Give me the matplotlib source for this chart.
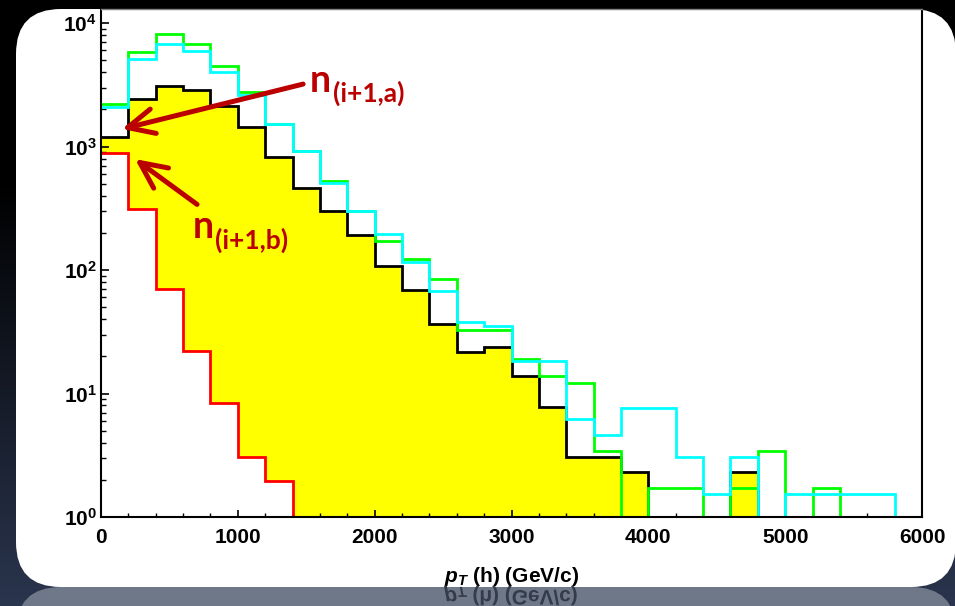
import numpy as np
import matplotlib
matplotlib.use('Agg')
import matplotlib.pyplot as plt
from matplotlib.patches import FancyBboxPatch, PathPatch
from matplotlib.textpath import TextPath
from matplotlib.font_manager import FontProperties
from matplotlib.transforms import Affine2D, IdentityTransform
from matplotlib.ticker import MultipleLocator, LogLocator, NullFormatter, FuncFormatter

plt.rcParams['font.family'] = ['Liberation Sans', 'DejaVu Sans']
plt.rcParams['font.weight'] = 'bold'
plt.rcParams['mathtext.fontset'] = 'custom'
plt.rcParams['mathtext.rm'] = 'Liberation Sans:bold'
plt.rcParams['mathtext.bf'] = 'Liberation Sans:bold'
plt.rcParams['mathtext.it'] = 'Liberation Sans:italic:bold'

# pT(h) histograms, 200 GeV/c bins from 0 to 6000
edges = np.arange(0, 6001, 200)
red_hist = [880, 312, 70, 22.3, 8.45, 3.05, 1.97, 0, 0, 0,
            0, 0, 0, 0, 0, 0, 0, 0, 0, 0,
            0, 0, 0, 0, 0, 0, 0, 0, 0, 0]
black_hist = [1200, 2430, 3110, 2870, 2140, 1440, 817, 458, 300, 192,
              108, 68.7, 36.3, 21.7, 23.7, 13.8, 7.79, 3.06, 3.06, 2.31,
              0, 0, 0, 2.31, 0, 0, 0, 0, 0, 0]
green_hist = [2210, 5860, 8200, 6780, 4520, 2750, 1520, 920, 530, 300,
              172, 123, 85, 32.6, 32.6, 19.1, 13.8, 12.1, 3.43, 0,
              1.72, 1.72, 0, 1.72, 3.43, 0, 1.72, 0, 0, 0]
cyan_hist = [2100, 5120, 6810, 5970, 4040, 2620, 1520, 920, 510, 300,
             194, 117, 67.8, 38, 35.3, 18.4, 18.4, 6.19, 4.62, 7.65,
             7.65, 3.06, 1.53, 3.06, 0, 1.53, 1.53, 1.53, 1.53, 0]

W, H = 955, 606
fig = plt.figure(figsize=(W / 100, H / 100), dpi=100)

# slide-style backdrop: dark gradient, white rounded panel
ax_bg = fig.add_axes([0, 0, 1, 1], zorder=-1)
ax_bg.set_xlim(0, W)
ax_bg.set_ylim(H, 0)
ax_bg.axis('off')
t = np.clip((np.arange(H) - 180) / (H - 180), 0, 1)
navy = np.array([0x2a, 0x35, 0x4e]) / 255
grad = t[:, None, None] * navy[None, None, :] * np.ones((1, 2, 1))
ax_bg.imshow(grad, extent=[0, W, H, 0], aspect='auto', zorder=0)
ax_bg.add_patch(FancyBboxPatch((16, 9), 940, 578,
                               boxstyle='round,pad=0,rounding_size=45',
                               facecolor='white', edgecolor='none', zorder=1))

ax = fig.add_axes([101 / W, (H - 517) / H, (922 - 101) / W, (517 - 9) / H])
ax.set_facecolor('white')

ax.stairs(black_hist, edges, baseline=red_hist, fill=True,
          facecolor='#ffff00', edgecolor='none', lw=0, zorder=1)
# step outlines only; zero bins drop to the axis on their own
ax.stairs(red_hist, edges, baseline=None, color='#ff0000', lw=2.0, zorder=2)
ax.stairs(black_hist, edges, baseline=None, color='black', lw=2.0, zorder=3)
ax.stairs(green_hist, edges, baseline=None, color='#00ff00', lw=2.0, zorder=4)
ax.stairs(cyan_hist, edges, baseline=None, color='#00ffff', lw=2.0, zorder=5)

ax.set_yscale('log')
ax.set_xlim(0, 6000)
ax.set_ylim(1, 1.3e4)
ax.set_xticks(np.arange(0, 6001, 1000))
ax.xaxis.set_minor_locator(MultipleLocator(200))
ax.yaxis.set_major_locator(LogLocator(base=10, numticks=10))
ax.yaxis.set_minor_locator(LogLocator(base=10, subs=np.arange(2, 10), numticks=20))
ax.yaxis.set_minor_formatter(NullFormatter())
ax.yaxis.set_major_formatter(FuncFormatter(lambda v, p: r'$10^{%d}$' % round(np.log10(v))))

ax.tick_params(which='both', direction='in', top=False, right=False, labelsize=15)
ax.tick_params(axis='x', which='major', length=5.2, width=1.2, pad=8)
ax.tick_params(axis='x', which='minor', length=2.8, width=1.0)
ax.tick_params(axis='y', which='major', length=5.5, width=1.2, pad=3)
ax.tick_params(axis='y', which='minor', length=3.8, width=1.0)
for side in ['left', 'bottom', 'right']:
    ax.spines[side].set_linewidth(1.5)
for sp in ax.spines.values():
    sp.set_zorder(10)
ax.spines['top'].set_color('#808080')
ax.spines['top'].set_linewidth(1.0)

xlabel = r'$p_T$ (h) (GeV/c)'
ax.set_xlabel(xlabel, fontsize=15, fontweight='bold', labelpad=13)

# bin-content annotations
dark_red = '#bb0000'
arrow = dict(arrowstyle='->,head_length=0.95,head_width=0.45', lw=3.6,
             color=dark_red, shrinkA=0, shrinkB=0, mutation_scale=20)
ax.annotate('', xy=(153, 1387), xytext=(1477, 3206), arrowprops=arrow, zorder=8)
ax.annotate('', xy=(249, 792), xytext=(702, 340), arrowprops=arrow, zorder=8)
ax.text(1527, 2765, 'n', family='Lato', weight='bold', size=27,
        color=dark_red, va='baseline', zorder=9)
ax.text(1696, 2290, '(i+1,a)', family='Lato', weight='bold', size=19,
        color=dark_red, va='baseline', zorder=9)
ax.text(672, 181.5, 'n', family='Lato', weight='bold', size=27,
        color=dark_red, va='baseline', zorder=9)
ax.text(833, 150, '(i+1,b)', family='Lato', weight='bold', size=19,
        color=dark_red, va='baseline', zorder=9)

# reflection band under the panel, with the axis title mirrored in it
band = FancyBboxPatch((16, 587), 940, 600, boxstyle='round,pad=0,rounding_size=45',
                      facecolor='#6e7888', edgecolor='none',
                      transform=ax_bg.transData, zorder=5)
fig.add_artist(band)

fig.canvas.draw()
renderer = fig.canvas.get_renderer()
bb = ax.xaxis.label.get_window_extent(renderer)
fp = FontProperties(family='Liberation Sans', weight='bold', size=15)
tp = TextPath((0, 0), xlabel, prop=fp)
ext = tp.get_extents()
s = fig.dpi / 72
baseline = bb.y0 - ext.y0 * s
mirror_y = H - 587
tr = Affine2D().scale(s, -s).translate(bb.x0 - ext.x0 * s, 2 * mirror_y - baseline)
fig.add_artist(PathPatch(tr.transform_path(tp), transform=IdentityTransform(),
                         facecolor='#343c4a', edgecolor='none', zorder=6))

fig.savefig('out.png', dpi=100, facecolor='black')
